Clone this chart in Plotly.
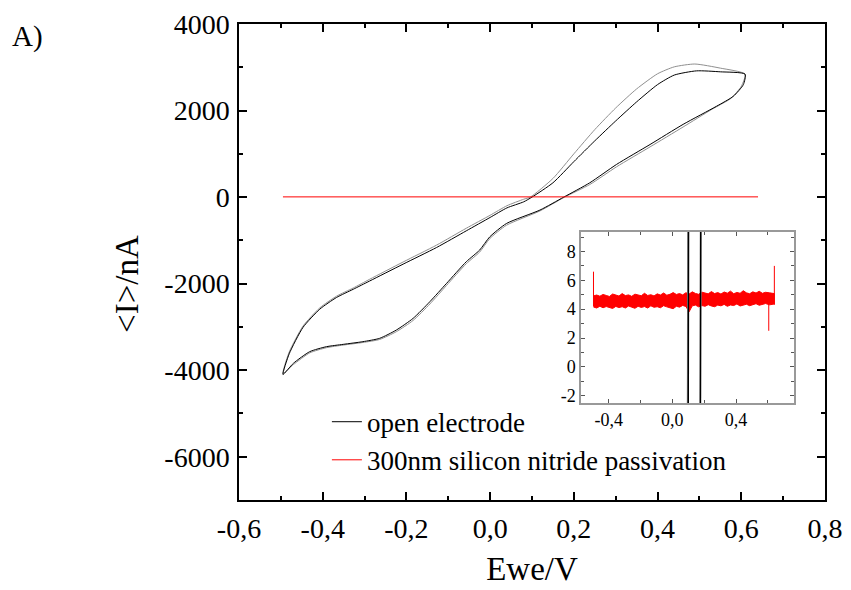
import plotly.graph_objects as go

# ---------------- data ----------------
# open electrode, cycle 1 (black)
c1_x = [-0.495, -0.480, -0.447, -0.407, -0.367, -0.327, -0.288, -0.208, -0.128, -0.057, 0.000, 0.040, 0.080, 0.100,
        0.150, 0.200, 0.250, 0.300, 0.350, 0.400, 0.440, 0.493, 0.550, 0.609,
        0.605, 0.581, 0.541, 0.461, 0.382, 0.302, 0.238, 0.176, 0.119, 0.039, -0.001, -0.025, -0.057, -0.104,
        -0.144, -0.184, -0.224, -0.264, -0.304, -0.351, -0.391, -0.431, -0.470, -0.495]
c1_y = [-4100, -3620, -3010, -2590, -2320, -2130, -1940, -1550, -1165, -780, -470, -250, -110, 0,
        330, 820, 1300, 1760, 2200, 2600, 2820, 2917, 2895, 2841,
        2600, 2330, 2100, 1680, 1215, 755, 330, 0, -300, -610, -920, -1224, -1494, -1993,
        -2417, -2802, -3072, -3264, -3341, -3403, -3457, -3572, -3841, -4100]

# open electrode, cycle 2 (grey)
c2_x = [-0.495, -0.480, -0.447, -0.407, -0.367, -0.327, -0.288, -0.208, -0.128, -0.057, 0.000, 0.040, 0.080, 0.096,
        0.150, 0.200, 0.250, 0.300, 0.350, 0.400, 0.440, 0.489, 0.550, 0.609,
        0.600, 0.575, 0.530, 0.461, 0.382, 0.302, 0.238, 0.178, 0.119, 0.039, -0.001, -0.025, -0.057, -0.104,
        -0.144, -0.184, -0.224, -0.264, -0.304, -0.351, -0.391, -0.431, -0.470, -0.495]
c2_y = [-4080, -3580, -2980, -2560, -2290, -2100, -1900, -1500, -1110, -720, -420, -200, -50, 0,
        430, 1000, 1560, 2060, 2500, 2850, 3010, 3075, 2980, 2841,
        2560, 2280, 2030, 1620, 1160, 700, 290, 0, -320, -650, -960, -1270, -1540, -2040,
        -2470, -2850, -3110, -3290, -3360, -3420, -3480, -3600, -3870, -4080]

# 300nm silicon nitride passivation (noise band envelope, nA)
red_x = [-0.495, -0.475, -0.455, -0.435, -0.415, -0.395, -0.375, -0.355, -0.335, -0.315, -0.295, -0.275,
         -0.255, -0.235, -0.215, -0.195, -0.175, -0.155, -0.135, -0.115, -0.095, -0.075, -0.055, -0.035,
         -0.015, 0.005, 0.025, 0.045, 0.065, 0.085, 0.105, 0.125, 0.145, 0.165, 0.185, 0.205, 0.225, 0.245,
         0.265, 0.285, 0.305, 0.325, 0.345, 0.365, 0.385, 0.405, 0.425, 0.445, 0.465, 0.485, 0.505, 0.525,
         0.545, 0.565, 0.585, 0.610, 0.640]
red_upper = [4.92, 4.98, 4.90, 5.02, 4.95, 4.88, 5.05, 4.97, 4.91, 5.08, 4.94, 4.99, 4.89, 5.04, 4.96, 4.93,
             5.10, 4.95, 5.00, 4.92, 5.06, 4.98, 5.12, 4.97, 5.03, 5.15, 5.02, 5.08, 4.99, 5.14, 5.05, 5.20,
             5.09, 5.03, 5.18, 5.10, 5.06, 5.22, 5.08, 5.15, 5.05, 5.19, 5.11, 5.25, 5.07, 5.16, 5.10, 5.28,
             5.13, 5.07, 5.20, 5.12, 5.24, 5.10, 5.17, 5.13, 5.08]
red_lower = [4.15, 4.08, 4.20, 4.10, 4.18, 4.12, 4.05, 4.19, 4.11, 4.17, 4.08, 4.22, 4.14, 4.06, 4.20, 4.12,
             4.18, 4.08, 4.23, 4.13, 4.17, 4.10, 4.24, 4.16, 4.08, 4.03, 4.20, 4.14, 4.26, 4.18, 3.82, 4.23,
             4.28, 4.16, 4.25, 4.20, 4.31, 4.22, 4.17, 4.28, 4.23, 4.33, 4.20, 4.29, 4.25, 4.36, 4.22, 4.28,
             4.34, 4.24, 4.31, 4.38, 4.27, 4.33, 4.39, 4.30, 4.36]
spike_x = [-0.495, 0.605, 0.640]
spike_low = [4.20, 2.50, 4.30]
spike_high = [6.60, 4.40, 7.00]

# tick labels
main_xticks = [-0.6, -0.4, -0.2, 0.0, 0.2, 0.4, 0.6, 0.8]
main_xlabels = ["-0,6", "-0,4", "-0,2", "0,0", "0,2", "0,4", "0,6", "0,8"]
main_yticks = [-6000, -4000, -2000, 0, 2000, 4000]
main_ylabels = ["-6000", "-4000", "-2000", "0", "2000", "4000"]
ins_xticks = [-0.4, 0.0, 0.4]
ins_xlabels = ["-0,4", "0,0", "0,4"]
ins_yticks = [-2, 0, 2, 4, 6, 8]
ins_ylabels = ["-2", "0", "2", "4", "6", "8"]

FONT = "Liberation Serif"
RED = "#ff0000"
GREY = "#8f8f8f"

fig = go.Figure()

# ---- main plot ----
fig.add_trace(go.Scatter(x=c2_x, y=c2_y, mode="lines", line=dict(color=GREY, width=1, shape="spline", smoothing=0.6),
                         showlegend=False, hoverinfo="skip", xaxis="x", yaxis="y"))
fig.add_trace(go.Scatter(x=c1_x, y=c1_y, mode="lines", line=dict(color="black", width=1, shape="spline", smoothing=0.6),
                         name="open electrode", xaxis="x", yaxis="y"))
fig.add_trace(go.Scatter(x=red_x, y=red_upper, mode="lines", line=dict(color=RED, width=1),
                         name="300nm silicon nitride passivation", xaxis="x", yaxis="y"))

# ---- inset ----
band_x = red_x + red_x[::-1]
band_y = red_upper + red_lower[::-1]
fig.add_trace(go.Scatter(x=band_x, y=band_y, mode="lines", fill="toself", fillcolor=RED,
                         line=dict(color=RED, width=1), showlegend=False, hoverinfo="skip",
                         xaxis="x2", yaxis="y2"))
sx, sy = [], []
for xv, lo, hi in zip(spike_x, spike_low, spike_high):
    sx += [xv, xv, None]
    sy += [lo, hi, None]
fig.add_trace(go.Scatter(x=sx, y=sy, mode="lines", line=dict(color=RED, width=1),
                         showlegend=False, hoverinfo="skip", xaxis="x2", yaxis="y2"))
fig.add_trace(go.Scatter(x=c2_x, y=c2_y, mode="lines", line=dict(color=GREY, width=1.5),
                         showlegend=False, hoverinfo="skip", xaxis="x2", yaxis="y2"))
fig.add_trace(go.Scatter(x=c1_x, y=c1_y, mode="lines", line=dict(color="black", width=1.5),
                         showlegend=False, hoverinfo="skip", xaxis="x2", yaxis="y2"))

axis_common = dict(showline=True, linecolor="black", linewidth=1.5, mirror="ticks", ticks="inside",
                   ticklen=8, tickwidth=1.5, tickcolor="black", showgrid=False, zeroline=False,
                   automargin=False)

fig.update_layout(
    width=851, height=590, autosize=False,
    margin=dict(l=239, r=26, t=24, b=90, pad=0),
    paper_bgcolor="white", plot_bgcolor="white",
    font=dict(family=FONT, color="black"),
    xaxis=dict(range=[-0.6, 0.8], tickmode="array", tickvals=main_xticks, ticktext=main_xlabels,
               tickfont=dict(size=28, family=FONT), ticklabelstandoff=3,
               minor=dict(dtick=0.1, tick0=0, ticks="inside", ticklen=4, tickcolor="black", tickwidth=1.5),
               title=dict(text="Ewe/V", font=dict(size=33, family=FONT), standoff=14),
               domain=[0, 1], anchor="y", **axis_common),
    yaxis=dict(range=[-7000, 4000], tickmode="array", tickvals=main_yticks, ticktext=main_ylabels,
               tickfont=dict(size=28, family=FONT), ticklabelstandoff=2,
               minor=dict(dtick=1000, tick0=0, ticks="inside", ticklen=4, tickcolor="black", tickwidth=1.5),
               domain=[0, 1], anchor="x", **axis_common),
    xaxis2=dict(domain=[0.584, 0.947], anchor="y2", range=[-0.572, 0.763], tickmode="array",
                tickvals=ins_xticks, ticktext=ins_xlabels, tickfont=dict(size=18, family=FONT),
                showline=True, linecolor="#999999", linewidth=1.5, mirror="ticks", ticks="inside",
                ticklen=4, tickcolor="#555555", showgrid=False, zeroline=False, automargin=False,
                minor=dict(dtick=0.2, tick0=0, ticks="inside", ticklen=3, tickcolor="#555555")),
    yaxis2=dict(domain=[0.204, 0.563], anchor="x2", range=[-2.5, 9.35], tickmode="array",
                tickvals=ins_yticks, ticktext=ins_ylabels, tickfont=dict(size=18, family=FONT),
                showline=True, linecolor="#999999", linewidth=1.5, mirror="ticks", ticks="inside",
                ticklen=4, tickcolor="#555555", showgrid=False, zeroline=False, automargin=False,
                minor=dict(dtick=1, tick0=0, ticks="inside", ticklen=3, tickcolor="#555555")),
    legend=dict(x=0.150, y=0.215, xanchor="left", yanchor="top", bgcolor="rgba(0,0,0,0)",
                font=dict(size=27, family=FONT), tracegroupgap=0, itemwidth=30),
    annotations=[
        dict(text="A)", xref="paper", yref="paper", x=-0.390, y=0.973, xanchor="left", yanchor="middle",
             showarrow=False, font=dict(size=29, family=FONT)),
        dict(text="&lt;I&gt;/nA", xref="paper", yref="paper", x=-0.191, y=0.454, xanchor="center",
             yanchor="middle", textangle=-90, showarrow=False, font=dict(size=33, family=FONT)),
    ],
)

fig.write_html("out.html")
